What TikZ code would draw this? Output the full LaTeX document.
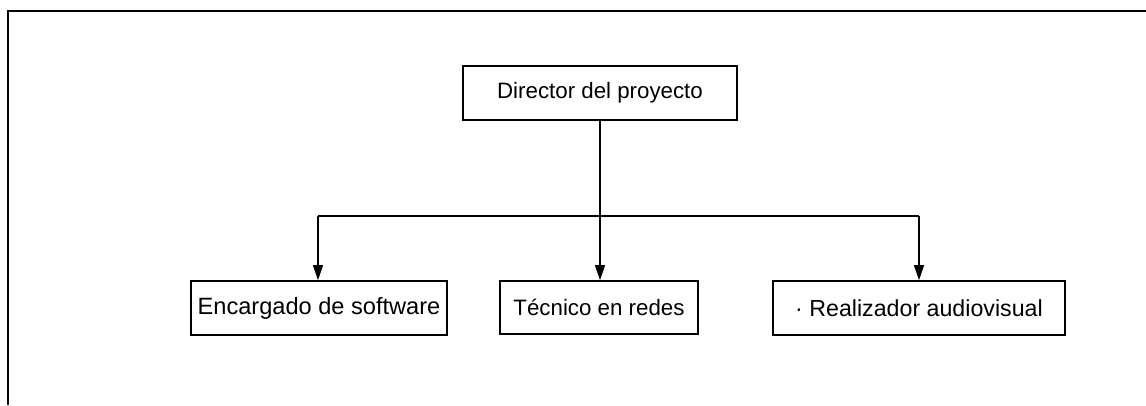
\documentclass[tikz,border=0pt]{standalone}
\usepackage{fontspec}
\setmainfont{Liberation Sans}
\usetikzlibrary{arrows.meta}
\begin{document}
\begin{tikzpicture}[x=1pt,y=1pt,
  box/.style={draw=black,line width=1.7pt,inner sep=0pt,anchor=center},
  conn/.style={line width=1.4pt,draw=black},
  arr/.style={conn,-{Triangle[length=15pt,width=10pt]}}]
\useasboundingbox (0,0) rectangle (1146,405);
\fill[white] (0,0) rectangle (1146,405);
% outer frame (top and left edges only visible)
\coordinate (ftl) at (8,394);
\coordinate (ftr) at (1146,394);
\coordinate (fbl) at (8,0);
\draw[line width=1.8pt] (ftr) -- (ftl) -- (fbl);
% boxes
\node[box,minimum width=274pt,minimum height=54pt,font=\fontsize{22.3}{26}\selectfont] (dir) at (600,312) {Director del proyecto};
\node[box,minimum width=256pt,minimum height=54pt,font=\fontsize{23.6}{28}\selectfont] (enc) at (319,97) {Encargado de software};
\node[box,minimum width=198pt,minimum height=53pt,font=\fontsize{22.3}{26}\selectfont] (tec) at (599,97.5) {Técnico en redes};
\node[box,minimum width=292pt,minimum height=54pt,font=\fontsize{23.2}{27}\selectfont] (rea) at (919,97) {· Realizador audiovisual};
% connectors
\coordinate (bus) at (600,189);
\coordinate (busl) at (318,189);
\coordinate (busr) at (919,189);
\draw[conn] (dir.south) -- (bus);
\draw[arr] (bus) -- (tec.north -| bus);
\draw[arr] (busl) -- (enc.north -| busl);
\draw[arr] (busr) -- (rea.north -| busr);
\draw[conn] (busl) -- (busr);
\end{tikzpicture}
\end{document}
